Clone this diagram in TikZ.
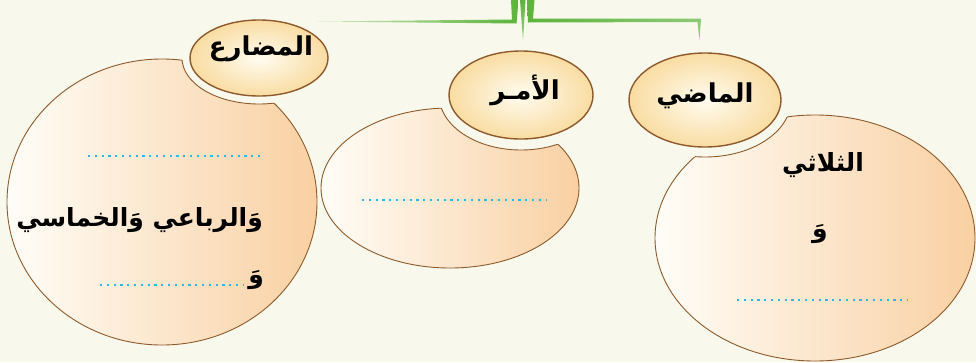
\documentclass[tikz,border=0pt]{standalone}
\usepackage{fontspec}
\TeXXeTstate=1
\newfontfamily\arabicfont[Script=Arabic]{DejaVu Sans}
\definecolor{bgc}{HTML}{F8F9EC}
\definecolor{edge}{HTML}{8E5A2C}
\definecolor{peach}{HTML}{F9D0A2}
\definecolor{cream}{HTML}{FFFDF8}
\definecolor{capin}{HTML}{FFFCF0}
\definecolor{capout}{HTML}{F9DCA2}
\definecolor{grn}{HTML}{5DB33C}
\definecolor{grnl}{HTML}{CDE8BC}
\definecolor{dotc}{HTML}{2CB7E6}
\tikzset{
  bodyshade/.style={left color=cream, right color=peach},
  capshade/.style={inner color=capin, outer color=capout},
  edgeline/.style={draw=edge, line width=0.9pt},
  capline/.style={draw=edge, line width=1.4pt},
  dotline/.style={draw=dotc, line width=2.2pt, dash pattern=on 2.2pt off 4.6pt},
  title/.style={font=\arabicfont\bfseries\fontsize{26}{30}\selectfont, inner sep=0pt},
  btext/.style={font=\arabicfont\bfseries\fontsize{25}{30}\selectfont, inner sep=0pt},
}
\begin{document}
\begin{tikzpicture}[x=1pt,y=-1pt]
\fill[bgc] (0,0) rectangle (976,362);
\useasboundingbox (0,0) rectangle (976,362);

% centres
\coordinate (Lbody) at (162,202);
\coordinate (Lcap) at (259,58);
\coordinate (Mbody) at (450,188);
\coordinate (Mcap) at (521,95);
\coordinate (Rbody) at (815,238);
\coordinate (Rcap) at (705,100);

% ---- left group (المضارع)
\shade[bodyshade] (Lbody) ellipse [x radius=155pt, y radius=143pt];
\draw[edgeline] (Lbody) ellipse [x radius=155pt, y radius=143pt];
\fill[bgc] (Lcap) ellipse [x radius=77pt, y radius=46pt];
\begin{scope}
  \clip (Lbody) ellipse [x radius=155pt, y radius=143pt];
  \draw[edgeline] (Lcap) ellipse [x radius=77pt, y radius=46pt];
\end{scope}
\shade[capshade] (Lcap) ellipse [x radius=69pt, y radius=38pt];
\draw[capline] (Lcap) ellipse [x radius=69pt, y radius=38pt];
\node[title] (tL) at (261,49) {\beginR المضارع\endR};

% ---- middle group (الأمر)
\shade[bodyshade] (Mbody) ellipse [x radius=129pt, y radius=80pt];
\draw[edgeline] (Mbody) ellipse [x radius=129pt, y radius=80pt];
\fill[bgc] (Mcap) ellipse [x radius=82pt, y radius=55pt];
\begin{scope}
  \clip (Mbody) ellipse [x radius=129pt, y radius=80pt];
  \draw[edgeline] (Mcap) ellipse [x radius=82pt, y radius=55pt];
\end{scope}
\shade[capshade] (Mcap) ellipse [x radius=72pt, y radius=44pt];
\draw[capline] (Mcap) ellipse [x radius=72pt, y radius=44pt];
\node[title] (tM) at (525,90) {\beginR الأمـر\endR};

% ---- right group (الماضي)
\shade[bodyshade] (Rbody) ellipse [x radius=160pt, y radius=123pt];
\draw[edgeline] (Rbody) ellipse [x radius=160pt, y radius=123pt];
\fill[bgc] (Rcap) ellipse [x radius=86pt, y radius=57pt];
\begin{scope}
  \clip (Rbody) ellipse [x radius=160pt, y radius=123pt];
  \draw[edgeline] (Rcap) ellipse [x radius=86pt, y radius=57pt];
\end{scope}
\shade[capshade] (Rcap) ellipse [x radius=76pt, y radius=47pt];
\draw[capline] (Rcap) ellipse [x radius=76pt, y radius=47pt];
\node[title] (tR) at (705,96) {\beginR الماضي\endR};

% ---- body texts and dotted lines
\coordinate (d1a) at (88,156);  \coordinate (d1b) at (260,156);
\draw[dotline] (d1a) -- (d1b);
\node[btext, anchor=east] (lt1) at (263,220) {\beginR وَالرباعي وَالخماسي\endR};
\node[btext, anchor=east] (lt2) at (264,280) {\beginR وَ\endR};
\coordinate (d2a) at (100,285); \coordinate (d2b) at (243,285);
\draw[dotline] (d2a) -- (d2b);

\coordinate (d3a) at (362,200); \coordinate (d3b) at (546,200);
\draw[dotline] (d3a) -- (d3b);

\node[btext] (rt1) at (823,165) {\beginR الثلاثي\endR};
\node[btext] (rt2) at (820,234) {\beginR وَ\endR};
\coordinate (d4a) at (737,300); \coordinate (d4b) at (908,300);
\draw[dotline] (d4a) -- (d4b);

% ---- green connector strokes
\shade[left color=grnl, right color=grn]
  (511,0) -- (518.5,0) -- (516.5,23.5) -- (318,21.5) -- (512,19.5) -- cycle;
\shade[left color=grn, right color=grn!70!white]
  (527,0) -- (534.5,0) -- (533,18.5) -- (701,18.5) -- (699.5,40) -- (697.5,22) -- (528,22.5) -- cycle;
\shade[top color=grn, bottom color=grn!60!white]
  (520,0) -- (525.5,0) -- (523,41) -- cycle;
\end{tikzpicture}
\end{document}
